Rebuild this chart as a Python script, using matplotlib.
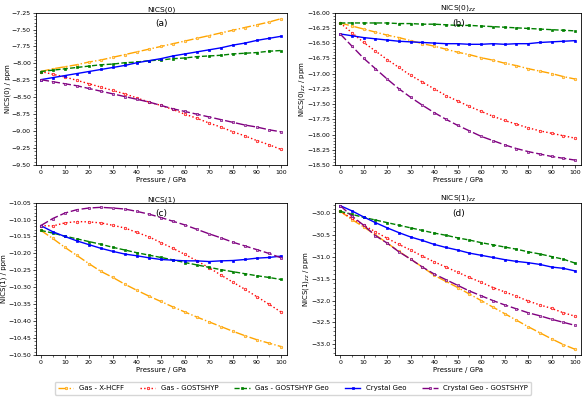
import numpy as np
import matplotlib
matplotlib.use("Agg")
import matplotlib.pyplot as plt
from matplotlib.ticker import AutoMinorLocator, MultipleLocator

# ── Data ──────────────────────────────────────────────────────────────────────

pressure = [0, 5, 10, 15, 20, 25, 30, 35, 40, 45, 50,
            55, 60, 65, 70, 75, 80, 85, 90, 95, 100]

series_names = ["Gas - X-HCFF", "Gas - GOSTSHYP", "Gas - GOSTSHYP Geo",
                "Crystal Geo", "Crystal Geo - GOSTSHYP"]

# NICS(0)
nics0_xhcff = [-8.12, -8.08, -8.05, -8.02, -7.98, -7.95, -7.91, -7.87, -7.83, -7.79, -7.75,
               -7.71, -7.67, -7.63, -7.59, -7.55, -7.51, -7.47, -7.43, -7.39, -7.34]
nics0_gost = [-8.12, -8.16, -8.20, -8.25, -8.30, -8.35, -8.40, -8.45, -8.51, -8.57, -8.62,
              -8.68, -8.75, -8.81, -8.88, -8.94, -9.01, -9.07, -9.14, -9.20, -9.27]
nics0_gostgeo = [-8.12, -8.10, -8.08, -8.06, -8.04, -8.02, -8.01, -7.99, -7.98, -7.96, -7.95,
                 -7.93, -7.92, -7.90, -7.89, -7.88, -7.86, -7.85, -7.84, -7.82, -7.81]
nics0_cryst = [-8.24, -8.21, -8.18, -8.15, -8.12, -8.09, -8.06, -8.03, -7.99, -7.96, -7.93,
               -7.89, -7.86, -7.83, -7.80, -7.77, -7.73, -7.70, -7.66, -7.63, -7.60]
nics0_crystgost = [-8.24, -8.27, -8.30, -8.33, -8.37, -8.41, -8.45, -8.49, -8.53, -8.57, -8.62,
                   -8.67, -8.71, -8.75, -8.79, -8.83, -8.87, -8.91, -8.94, -8.98, -9.01]

# NICS(0)zz
nics0zz_xhcff = [-16.17, -16.22, -16.27, -16.32, -16.37, -16.41, -16.46, -16.51, -16.55, -16.60, -16.65,
                 -16.69, -16.74, -16.78, -16.83, -16.87, -16.92, -16.96, -17.00, -17.05, -17.09]
nics0zz_gost = [-16.17, -16.33, -16.49, -16.63, -16.77, -16.90, -17.03, -17.14, -17.25, -17.36, -17.45,
                -17.54, -17.62, -17.70, -17.77, -17.83, -17.89, -17.94, -17.98, -18.02, -18.06]
nics0zz_gostgeo = [-16.17, -16.17, -16.17, -16.17, -16.17, -16.18, -16.18, -16.19, -16.19, -16.20, -16.21,
                   -16.21, -16.22, -16.23, -16.24, -16.25, -16.26, -16.27, -16.28, -16.29, -16.30]
nics0zz_cryst = [-16.35, -16.38, -16.41, -16.43, -16.45, -16.47, -16.48, -16.49, -16.50, -16.51, -16.51,
                 -16.52, -16.52, -16.51, -16.52, -16.51, -16.51, -16.49, -16.48, -16.47, -16.46]
nics0zz_crystgost = [-16.35, -16.55, -16.75, -16.92, -17.09, -17.25, -17.39, -17.52, -17.64, -17.75, -17.85,
                     -17.94, -18.03, -18.10, -18.17, -18.23, -18.28, -18.32, -18.36, -18.39, -18.42]

# NICS(1)
nics1_xhcff = [-10.132, -10.156, -10.182, -10.206, -10.230, -10.253, -10.271, -10.291, -10.309, -10.326, -10.342,
               -10.358, -10.373, -10.388, -10.402, -10.416, -10.430, -10.443, -10.455, -10.465, -10.475]
nics1_gost = [-10.118, -10.119, -10.110, -10.106, -10.107, -10.110, -10.117, -10.125, -10.138, -10.151, -10.168,
              -10.185, -10.203, -10.222, -10.242, -10.264, -10.285, -10.306, -10.328, -10.350, -10.373]
nics1_gostgeo = [-10.132, -10.140, -10.149, -10.157, -10.165, -10.173, -10.182, -10.190, -10.198, -10.205, -10.212,
                 -10.219, -10.227, -10.234, -10.241, -10.248, -10.254, -10.260, -10.266, -10.271, -10.277]
nics1_cryst = [-10.118, -10.136, -10.150, -10.163, -10.174, -10.185, -10.194, -10.202, -10.207, -10.213, -10.218,
               -10.220, -10.222, -10.222, -10.224, -10.222, -10.221, -10.218, -10.214, -10.212, -10.208]
nics1_crystgost = [-10.118, -10.097, -10.081, -10.071, -10.066, -10.064, -10.066, -10.069, -10.076, -10.084, -10.094,
                   -10.105, -10.116, -10.129, -10.142, -10.154, -10.167, -10.178, -10.189, -10.200, -10.213]

# NICS(1)zz
nics1zz_xhcff = [-29.95, -30.14, -30.31, -30.49, -30.68, -30.87, -31.05, -31.23, -31.42, -31.56, -31.70,
                 -31.85, -32.00, -32.15, -32.30, -32.45, -32.60, -32.74, -32.88, -33.01, -33.12]
nics1zz_gost = [-29.95, -30.11, -30.27, -30.42, -30.57, -30.71, -30.84, -30.98, -31.11, -31.23, -31.35,
                -31.47, -31.58, -31.70, -31.80, -31.90, -32.01, -32.10, -32.18, -32.28, -32.36]
nics1zz_gostgeo = [-29.95, -30.02, -30.09, -30.15, -30.21, -30.27, -30.33, -30.39, -30.45, -30.50, -30.56,
                   -30.61, -30.67, -30.72, -30.77, -30.82, -30.88, -30.93, -30.99, -31.05, -31.14]
nics1zz_cryst = [-29.82, -29.94, -30.08, -30.21, -30.33, -30.44, -30.54, -30.62, -30.71, -30.78, -30.84,
                 -30.91, -30.96, -31.01, -31.06, -31.10, -31.13, -31.17, -31.23, -31.26, -31.32]
nics1zz_crystgost = [-29.82, -30.06, -30.27, -30.51, -30.68, -30.88, -31.05, -31.23, -31.39, -31.52, -31.65,
                     -31.78, -31.89, -32.00, -32.10, -32.19, -32.28, -32.35, -32.43, -32.50, -32.57]

# ── Styles ────────────────────────────────────────────────────────────────────

STYLES = [
    dict(color="orange", linestyle="-.", marker="o", markerfacecolor="#ffd9a0"),
    dict(color="red", linestyle=":", marker="o", markerfacecolor="#ffe0e0"),
    dict(color="green", linestyle="--", marker="s", markerfacecolor="green"),
    dict(color="blue", linestyle="-", marker="s", markerfacecolor="blue"),
    dict(color="purple", linestyle=(0, (6, 2)), marker="s", markerfacecolor="#c9a0d0"),
]

plt.rcParams.update({
    "font.family": "DejaVu Sans",
    "font.size": 5,
    "axes.linewidth": 0.6,
    "xtick.major.width": 0.5,
    "ytick.major.width": 0.5,
    "xtick.minor.width": 0.4,
    "ytick.minor.width": 0.4,
    "xtick.major.size": 2.5,
    "ytick.major.size": 2.5,
    "xtick.minor.size": 1.5,
    "ytick.minor.size": 1.5,
    "xtick.labelsize": 4.5,
    "ytick.labelsize": 4.5,
})

panels = [
    ("NICS(0)", "(a)", "NICS(0) / ppm",
     [nics0_xhcff, nics0_gost, nics0_gostgeo, nics0_cryst, nics0_crystgost],
     (-9.5, -7.25), 0.25, [0.0614, 0.5875, 0.4283, 0.381]),
    ("NICS(0)$_{zz}$", "(b)", "NICS(0)$_{zz}$ / ppm",
     [nics0zz_xhcff, nics0zz_gost, nics0zz_gostgeo, nics0zz_cryst, nics0zz_crystgost],
     (-18.5, -16.0), 0.25, [0.5725, 0.5875, 0.419, 0.381]),
    ("NICS(1)", "(c)", "NICS(1) / ppm",
     [nics1_xhcff, nics1_gost, nics1_gostgeo, nics1_cryst, nics1_crystgost],
     (-10.5, -10.05), 0.05, [0.0614, 0.1125, 0.4283, 0.381]),
    ("NICS(1)$_{zz}$", "(d)", "NICS(1)$_{zz}$ / ppm",
     [nics1zz_xhcff, nics1zz_gost, nics1zz_gostgeo, nics1zz_cryst, nics1zz_crystgost],
     (-33.25, -29.75), 0.5, [0.5725, 0.1125, 0.419, 0.381]),
]

fig = plt.figure(figsize=(5.86, 4.0), dpi=100)

handles = []
for title, tag, ylabel, data, ylim, ystep, rect in panels:
    ax = fig.add_axes(rect)
    for name, vals, st in zip(series_names, data, STYLES):
        h, = ax.plot(pressure, vals, label=name, linewidth=1.0,
                     markersize=1.8, markeredgewidth=0.5,
                     markeredgecolor=st["color"], **st)
        if len(handles) < len(series_names):
            handles.append(h)
    ax.set_xlim(-2, 102.5)
    ax.set_ylim(*ylim)
    ax.xaxis.set_major_locator(MultipleLocator(10))
    ax.xaxis.set_minor_locator(AutoMinorLocator(2))
    ax.yaxis.set_major_locator(MultipleLocator(ystep))
    ax.yaxis.set_minor_locator(AutoMinorLocator(5))
    ax.tick_params(axis="both", pad=1.2)
    ax.set_title(title, fontsize=5.4, pad=0.8)
    ax.text(0.5, 0.93, tag, transform=ax.transAxes, ha="center", va="center",
            fontsize=6.5)
    ax.set_xlabel("Pressure / GPa", fontsize=5, labelpad=1.2)
    ax.set_ylabel(ylabel, fontsize=5, labelpad=0.5)

fig.legend(handles=handles, labels=series_names, loc="lower center",
           bbox_to_anchor=(0.5, 0.005), ncol=5, fontsize=5,
           handlelength=2.2, columnspacing=2.3, frameon=True,
           borderpad=0.5, handletextpad=0.8)

fig.savefig("out.png", dpi=100)
plt.close(fig)
